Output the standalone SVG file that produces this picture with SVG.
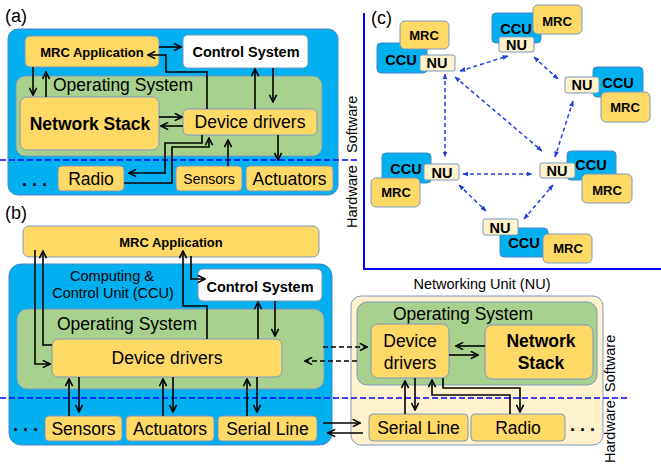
<svg xmlns="http://www.w3.org/2000/svg" width="661" height="466" viewBox="0 0 661 466">
<defs>
<style>
.ol{fill:#00B0F0;stroke:#4a86c5;stroke-width:1}
.g{fill:#FFD966;stroke:#7c98bf;stroke-width:1}
.os{fill:#A9D18E;stroke:#7c98bf;stroke-width:1}
.w{fill:#FFFFFF;stroke:#7c98bf;stroke-width:1}
.cr{fill:#FFF2CC;stroke:#7c98bf;stroke-width:1}
text{font-family:"Liberation Sans",Arial,sans-serif;fill:#000}
.b{font-weight:bold}
.m{text-anchor:middle}
.s175{font-size:17.5px}
.s145{font-size:14.5px}
.s13{font-size:13px}
.a{fill:none;stroke:#000;stroke-width:1.6;marker-end:url(#ah)}
.ad{fill:none;stroke:#000;stroke-width:1.6;stroke-dasharray:5 3;marker-end:url(#ah)}
.sep{stroke:#0000FF;stroke-width:1.5;stroke-dasharray:6 3;fill:none}
.ax{stroke:#0000FF;stroke-width:2;fill:none}
.ba{stroke:#1f3fe0;stroke-width:1.5;stroke-dasharray:4 3;fill:none;marker-start:url(#bh);marker-end:url(#bh)}
</style>
<marker id="ah" viewBox="0 0 10 10" refX="9" refY="5" markerWidth="9" markerHeight="9" markerUnits="userSpaceOnUse" orient="auto"><path d="M1,1 L9,5 L1,9" fill="none" stroke="#000" stroke-width="1.8"/></marker>
<marker id="bh" viewBox="0 0 10 10" refX="9" refY="5" markerWidth="6" markerHeight="6" markerUnits="userSpaceOnUse" orient="auto-start-reverse"><path d="M0,1 L10,5 L0,9 Z" fill="#1f3fe0"/></marker>
</defs>

<!-- Panel (a) -->
<text x="5" y="22" font-size="18">(a)</text>
<g id="a-outer"><rect class="ol" x="8" y="29" width="330" height="166" rx="10"/></g>
<g id="a-mrc"><rect class="g" x="25" y="36" width="134" height="31" rx="5"/><text class="b m s13" x="92" y="57">MRC Application</text></g>
<g id="a-cs"><rect class="w" x="183" y="35" width="125" height="33" rx="5"/><text class="b m s145" x="246" y="57">Control System</text></g>
<g id="a-os"><rect class="os" x="16" y="76" width="306" height="80" rx="9"/><text class="s175" x="53" y="91">Operating System</text></g>
<g id="a-ns"><rect class="g" x="20" y="97" width="139" height="53" rx="7"/><text class="b m s175" x="90" y="130">Network Stack</text></g>
<g id="a-dd"><rect class="g" x="183" y="109" width="134" height="26" rx="5"/><text class="m s175" x="250" y="128">Device drivers</text></g>
<g id="a-radio"><rect class="g" x="58" y="166" width="66" height="25" rx="4"/><text class="m s175" x="91" y="185">Radio</text></g>
<g id="a-sensors"><rect class="g" x="176" y="166" width="66" height="25" rx="4"/><text class="m" font-size="14" x="209" y="184">Sensors</text></g>
<g id="a-act"><rect class="g" x="246" y="166" width="87" height="25" rx="4"/><text class="m s175" x="289.5" y="185">Actuators</text></g>
<text class="b" font-size="18" x="22" y="186">. . .</text>

<!-- Panel (b) -->
<text x="5" y="219" font-size="18">(b)</text>
<g id="b-mrc"><rect class="g" x="23" y="226" width="296" height="31" rx="6"/><text class="b m s13" x="171" y="247">MRC Application</text></g>
<g id="b-ccu"><rect class="ol" x="9" y="264" width="323" height="181" rx="12"/>
<text class="m s145" x="112" y="281">Computing &amp;</text>
<text class="m s145" x="113" y="298">Control Unit (CCU)</text></g>
<g id="b-cs"><rect class="w" x="198" y="269" width="124" height="32" rx="5"/><text class="b m s145" x="260" y="292">Control System</text></g>
<g id="b-os"><rect class="os" x="17" y="309" width="307" height="80" rx="10"/><text class="m s175" x="127" y="330">Operating System</text></g>
<g id="b-dd"><rect class="g" x="52" y="339" width="230" height="38" rx="6"/><text class="m s175" x="167" y="364">Device drivers</text></g>
<g id="b-sensors"><rect class="g" x="45" y="416" width="77" height="25" rx="4"/><text class="m s175" x="83.5" y="435">Sensors</text></g>
<g id="b-act"><rect class="g" x="126" y="416" width="88" height="25" rx="4"/><text class="m s175" x="170" y="435">Actuators</text></g>
<g id="b-serial"><rect class="g" x="218" y="416" width="99" height="25" rx="4"/><text class="m s175" x="267.5" y="435">Serial Line</text></g>
<text class="b" font-size="18" x="13" y="431">. . .</text>

<!-- NU -->
<text class="m s145" x="482" y="289">Networking Unit (NU)</text>
<g id="nu-box"><rect class="cr" x="351" y="296" width="252" height="149" rx="10"/></g>
<g id="nu-os"><rect class="os" x="357" y="302" width="240" height="83" rx="10"/><text class="m s175" x="463" y="320">Operating System</text></g>
<g id="nu-dd"><rect class="g" x="371" y="324" width="78" height="54" rx="7"/><text class="m s175" x="410" y="347">Device</text><text class="m s175" x="410" y="369">drivers</text></g>
<g id="nu-ns"><rect class="g" x="485" y="325" width="108" height="54" rx="7"/><text class="b m s175" x="541" y="347">Network</text><text class="b m s175" x="541" y="369">Stack</text></g>
<g id="nu-serial"><rect class="g" x="369" y="414" width="99" height="27" rx="4"/><text class="m s175" x="418.5" y="434">Serial Line</text></g>
<g id="nu-radio"><rect class="g" x="471" y="414" width="94" height="27" rx="4"/><text class="m s175" x="518" y="434">Radio</text></g>
<text class="b" font-size="18" x="570" y="431">. . .</text>

<!-- separators & labels -->
<line class="sep" x1="0" y1="160" x2="358" y2="160"/>
<line class="sep" x1="0" y1="398" x2="630" y2="398"/>
<text class="s145" transform="translate(615,392) rotate(-90)">Software</text>
<text class="s145" transform="translate(615,463) rotate(-90)">Hardware</text>

<!-- Panel (c) -->
<path class="ax" d="M364,13 V269 H661"/>
<text x="371" y="24" font-size="18">(c)</text>
<text class="s145" transform="translate(357,153) rotate(-90)">Software</text>
<text class="s145" transform="translate(357,228) rotate(-90)">Hardware</text>

<g id="c1"><rect class="ol" x="377" y="43" width="50" height="30" rx="4"/><rect class="g" x="400" y="21" width="49" height="28" rx="5"/><rect class="cr" x="420" y="55" width="35" height="16" rx="2"/>
<text class="b m s13" x="424" y="40">MRC</text><text class="b m s145" x="401" y="65">CCU</text><text class="b m s145" x="437" y="68">NU</text></g>
<g id="c2"><rect class="ol" x="492" y="13" width="49" height="30" rx="4"/><rect class="g" x="533" y="5" width="49" height="29" rx="5"/><rect class="cr" x="499" y="37" width="35" height="15" rx="2"/>
<text class="b m s13" x="557" y="26">MRC</text><text class="b m s145" x="516" y="34">CCU</text><text class="b m s145" x="516.5" y="50">NU</text></g>
<g id="c3"><rect class="ol" x="593" y="67" width="50" height="30" rx="4"/><rect class="cr" x="565" y="77" width="34" height="16" rx="2"/><rect class="g" x="601" y="92" width="49" height="30" rx="5"/>
<text class="b m s145" x="618" y="88">CCU</text><text class="b m s145" x="582" y="90">NU</text><text class="b m s13" x="625" y="112">MRC</text></g>
<g id="c4"><rect class="ol" x="382" y="153" width="49" height="30" rx="4"/><rect class="cr" x="424" y="164" width="35" height="16" rx="2"/><rect class="g" x="371" y="178" width="49" height="29" rx="5"/>
<text class="b m s145" x="406" y="174">CCU</text><text class="b m s145" x="442" y="178">NU</text><text class="b m s13" x="396" y="197">MRC</text></g>
<g id="c5"><rect class="ol" x="567" y="151" width="49" height="29" rx="4"/><rect class="cr" x="540" y="163" width="35" height="15" rx="2"/><rect class="g" x="582" y="174" width="50" height="29" rx="5"/>
<text class="b m s145" x="591" y="170">CCU</text><text class="b m s145" x="557" y="176">NU</text><text class="b m s13" x="607" y="195">MRC</text></g>
<g id="c6"><rect class="ol" x="500" y="228" width="48" height="29" rx="4"/><rect class="cr" x="483" y="219" width="35" height="16" rx="2"/><rect class="g" x="543" y="234" width="49" height="29" rx="5"/>
<text class="b m s145" x="524" y="248">CCU</text><text class="b m s145" x="500" y="233">NU</text><text class="b m s13" x="568" y="253">MRC</text></g>

<!-- connectors -->
<g id="connectors">
<path class="a" d="M159,47 H181"/>
<path class="a" d="M207,109 V72 H166 V55 H148"/>
<path class="a" d="M33,67 V95"/>
<path class="a" d="M46,97 V72"/>
<path class="a" d="M159,117 H182"/>
<path class="a" d="M183,126 H161"/>
<path class="a" d="M255,109 V69"/>
<path class="a" d="M273,68 V102"/>
<path class="a" d="M278,135 V160"/>
<path class="a" d="M228,166 V140"/>
<path class="a" d="M202,135 V143 H165 V173 H129"/>
<path class="a" d="M124,183 H172 V147 H209 V138"/>

<path class="a" d="M35,250 V364 H50"/>
<path class="a" d="M52,345 H43 V251"/>
<path class="a" d="M207,339 V306 H183 V251"/>
<path class="a" d="M191,256 V279 H205"/>
<path class="a" d="M258,339 V302"/>
<path class="a" d="M275,301 V336"/>
<path class="a" d="M69,416 V379"/>
<path class="a" d="M79,377 V412"/>
<path class="a" d="M163,416 V379"/>
<path class="a" d="M173,377 V412"/>
<path class="a" d="M247,416 V379"/>
<path class="a" d="M257,377 V412"/>

<path class="ad" d="M323,347 H367"/>
<path class="ad" d="M357,361 H305"/>
<path class="a" d="M323,423 H360"/>
<path class="a" d="M363,433 H328"/>

<path class="a" d="M485,346 H456"/>
<path class="a" d="M449,355 H478"/>
<path class="a" d="M405,414 V381"/>
<path class="a" d="M415,378 V410"/>
<path class="a" d="M510,414 V395 H432 V380"/>
<path class="a" d="M443,378 V388 H520 V412"/>

<line class="ba" x1="460" y1="71" x2="508" y2="56"/>
<line class="ba" x1="534" y1="57" x2="558" y2="79"/>
<line class="ba" x1="455" y1="77" x2="542" y2="151"/>
<line class="ba" x1="445" y1="74" x2="445" y2="157"/>
<line class="ba" x1="573" y1="101" x2="555" y2="157"/>
<line class="ba" x1="463" y1="174" x2="532" y2="174"/>
<line class="ba" x1="459" y1="185" x2="486" y2="211"/>
<line class="ba" x1="524" y1="219" x2="553" y2="185"/>
</g>
</svg>
